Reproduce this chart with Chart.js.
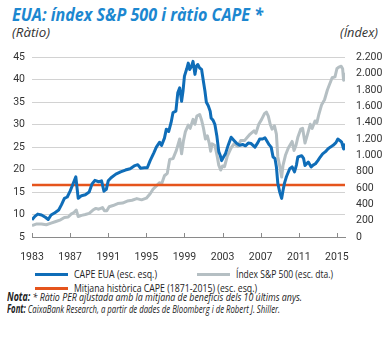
<!DOCTYPE html>
<html>
<head>
<meta charset="utf-8">
<script src="https://cdn.jsdelivr.net/npm/chart.js@4/dist/chart.umd.min.js"></script>
<style>
  body { margin: 0; background: #fff; width: 389px; height: 338px; position: relative; overflow: hidden;
         font-family: "Open Sans", sans-serif; color: #333; }
  .abs { position: absolute; white-space: nowrap; transform-origin: left center; line-height: 14px; }
  #title { left: 12px; top: 5px; font: italic bold 17px "Open Sans", sans-serif; color: #1c87d0; line-height: 20px; }
  .unit { top: 26px; font-style: italic; font-size: 12px; color: #333; }
  #wrap { position: absolute; left: 0; top: 40px; width: 389px; height: 222px; }
  .sw { position: absolute; width: 33px; height: 3px; }
  .lg { font-size: 11.5px; color: #222; }
  .note { left: 7px; font-size: 11.5px; font-style: italic; color: #222; }
</style>
</head>
<body>
<div id="title" class="abs" data-w="251">EUA: índex S&amp;P 500 i ràtio CAPE *</div>
<div class="abs unit" style="left:12px" data-w="38">(Ràtio)</div>
<div class="abs unit" style="left:340px" data-w="38">(Índex)</div>
<div id="wrap"><canvas id="myChart" width="389" height="222"></canvas></div>

<div class="sw" style="left:35px; top:273px; background:#0f6db8"></div>
<div class="abs lg" style="left:74px; top:267px" data-w="83">CAPE EUA (esc. esq.)</div>
<div class="sw" style="left:197px; top:273px; background:#b5bfc3"></div>
<div class="abs lg" style="left:236px; top:267px" data-w="97">Índex S&amp;P 500 (esc. dta.)</div>
<div class="sw" style="left:35px; top:287px; background:#e5541c"></div>
<div class="abs lg" style="left:74px; top:281px" data-w="183">Mitjana històrica CAPE (1871-2015) (esc. esq.)</div>

<div class="abs note" style="top:290px" data-w="295"><b>Nota:</b> * Ràtio PER ajustada amb la mitjana de beneficis dels 10 últims anys.</div>
<div class="abs note" style="top:302px" data-w="273"><b>Font:</b> CaixaBank Research, a partir de dades de Bloomberg i de Robert J. Shiller.</div>

<script>
'use strict';

// CAPE ratio (left scale)
const capeYears = [1983.0, 1983.3, 1983.6, 1984.0, 1984.4, 1984.7, 1985.0, 1985.4, 1985.8, 1986.1,
  1986.4, 1986.7, 1987.0, 1987.3, 1987.6, 1987.75, 1987.85, 1988.2, 1988.6, 1989.0,
  1989.3, 1989.6, 1990.0, 1990.3, 1990.55, 1990.8, 1991.0, 1991.3, 1991.8, 1992.3,
  1992.8, 1993.3, 1993.8, 1994.1, 1994.4, 1994.8, 1995.1, 1995.4, 1995.8, 1996.05,
  1996.4, 1996.6, 1996.9, 1997.1, 1997.35, 1997.6, 1997.8, 1998.1, 1998.3, 1998.5,
  1998.7, 1998.85, 1999.0, 1999.25, 1999.4, 1999.55, 1999.75, 1999.9, 2000.1, 2000.25,
  2000.4, 2000.6, 2000.8, 2001.0, 2001.15, 2001.3, 2001.5, 2001.7, 2001.8, 2002.0,
  2002.2, 2002.4, 2002.6, 2002.75, 2002.9, 2003.1, 2003.3, 2003.6, 2003.9, 2004.2,
  2004.5, 2004.8, 2005.1, 2005.4, 2005.7, 2006.0, 2006.4, 2006.7, 2006.9, 2007.2,
  2007.45, 2007.7, 2007.9, 2008.1, 2008.3, 2008.5, 2008.65, 2008.8, 2009.0, 2009.2,
  2009.35, 2009.5, 2009.7, 2010.05, 2010.3, 2010.55, 2010.75, 2010.9, 2011.3, 2011.5,
  2011.65, 2012.0, 2012.3, 2012.5, 2012.75, 2013.0, 2013.25, 2013.5, 2013.8, 2014.05,
  2014.3, 2014.6, 2014.9, 2015.1, 2015.3, 2015.5, 2015.7, 2015.85];
const capeValues = [8.8, 9.6, 10.1, 9.9, 9.4, 8.9, 9.9, 10.4, 11.0, 12.2,
  13.6, 13.9, 15.2, 16.8, 18.4, 15.5, 13.6, 14.2, 14.4, 15.0,
  16.8, 17.6, 17.3, 17.5, 15.2, 15.6, 17.5, 18.2, 19.0, 19.5,
  19.9, 20.2, 20.9, 21.1, 20.3, 20.4, 20.4, 22.0, 23.8, 25.0,
  26.1, 25.4, 27.0, 29.0, 28.5, 30.5, 32.7, 33.0, 37.1, 38.2,
  35.2, 37.5, 40.8, 42.5, 43.7, 42.3, 43.0, 44.1, 41.2, 43.0,
  43.4, 42.6, 42.3, 39.5, 37.5, 35.0, 34.2, 33.0, 31.5, 31.0,
  30.0, 27.5, 24.0, 23.2, 22.0, 22.8, 23.5, 25.5, 27.2, 26.5,
  25.8, 25.4, 25.6, 25.3, 25.9, 25.8, 25.0, 26.0, 26.8, 26.8,
  27.1, 26.2, 25.5, 25.0, 22.8, 22.5, 20.6, 16.9, 15.0, 13.6,
  15.4, 17.0, 18.4, 20.2, 20.6, 19.5, 21.0, 22.8, 23.1, 22.5,
  20.9, 21.7, 20.6, 21.0, 21.3, 22.0, 22.8, 23.5, 24.0, 24.6,
  25.0, 25.4, 26.0, 26.8, 26.5, 26.1, 24.6, 25.8];

// S&P 500 index (right scale)
const spxYears = [1983.0, 1983.5, 1984.0, 1984.5, 1985.0, 1985.5, 1986.0, 1986.4, 1986.8, 1987.1,
  1987.4, 1987.65, 1987.85, 1988.2, 1988.6, 1989.0, 1989.4, 1989.7, 1990.0, 1990.4,
  1990.6, 1990.85, 1991.1, 1991.5, 1992.0, 1992.5, 1993.0, 1993.5, 1994.0, 1994.5,
  1995.0, 1995.4, 1995.7, 1996.0, 1996.4, 1996.6, 1996.9, 1997.2, 1997.45, 1997.8,
  1998.15, 1998.5, 1998.7, 1998.9, 1999.1, 1999.4, 1999.6, 1999.9, 2000.1, 2000.3,
  2000.6, 2000.8, 2001.0, 2001.2, 2001.4, 2001.6, 2001.75, 2001.9, 2002.2, 2002.45,
  2002.6, 2002.8, 2003.0, 2003.2, 2003.5, 2003.9, 2004.2, 2004.6, 2004.9, 2005.3,
  2005.6, 2005.9, 2006.3, 2006.5, 2006.8, 2007.1, 2007.4, 2007.6, 2007.8, 2008.0,
  2008.2, 2008.45, 2008.65, 2008.8, 2009.0, 2009.2, 2009.35, 2009.6, 2009.9, 2010.3,
  2010.5, 2010.7, 2010.9, 2011.2, 2011.4, 2011.65, 2011.9, 2012.2, 2012.4, 2012.7,
  2012.9, 2013.1, 2013.4, 2013.7, 2014.0, 2014.2, 2014.5, 2014.8, 2015.0, 2015.2,
  2015.45, 2015.6, 2015.7, 2015.85];
const spxValues = [140, 160, 160, 150, 170, 190, 210, 240, 245, 280,
  300, 330, 250, 265, 275, 290, 330, 350, 340, 360,
  320, 320, 370, 385, 410, 415, 440, 450, 470, 455,
  475, 530, 585, 620, 665, 650, 750, 780, 950, 960,
  1060, 1200, 1020, 1180, 1290, 1370, 1330, 1440, 1380, 1480,
  1500, 1430, 1330, 1200, 1240, 1150, 1050, 1140, 1120, 980,
  880, 820, 870, 860, 990, 1090, 1140, 1110, 1180, 1180,
  1220, 1260, 1300, 1270, 1380, 1440, 1510, 1530, 1480, 1380,
  1320, 1360, 1260, 980, 870, 735, 880, 1000, 1090, 1170,
  1060, 1120, 1220, 1320, 1330, 1150, 1250, 1380, 1330, 1420,
  1400, 1500, 1620, 1680, 1800, 1860, 1950, 1960, 2060, 2080,
  2090, 2060, 1920, 2010];

// long-run CAPE average, 1871-2015
const meanYears = [1983.0, 2015.85];
const meanValue = 16.6;

const xTicks = [1983, 1987, 1991, 1995, 1999, 2003, 2007, 2011, 2015];

const tickFont = { family: 'Roboto, "Open Sans", sans-serif', size: 10.5 };

function toPoints(xs, ys) {
  return xs.map((x, i) => ({ x: x, y: ys[i] }));
}

function thousands(v) {
  return String(v).replace(/\B(?=(\d{3})+(?!\d))/g, '.');
}

// squeeze the html labels to their set widths (narrow face look)
function fitLabels() {
  document.querySelectorAll('[data-w]').forEach(el => {
    el.style.transform = '';
    const w = el.getBoundingClientRect().width;
    const target = parseFloat(el.getAttribute('data-w'));
    if (w > 0) el.style.transform = 'scaleX(' + (target / w) + ')';
  });
}
fitLabels();
if (document.fonts) document.fonts.ready.then(fitLabels);

// small tick marks standing up from the bottom axis
const upTicks = {
  id: 'upTicks',
  afterDraw(chart) {
    const ctx = chart.ctx;
    const xs = chart.scales.x;
    const bottom = chart.chartArea.bottom;
    ctx.save();
    ctx.strokeStyle = '#8a8a8a';
    ctx.lineWidth = 1;
    xTicks.forEach(t => {
      const px = Math.round(xs.getPixelForValue(t)) + 0.5;
      ctx.beginPath();
      ctx.moveTo(px, bottom);
      ctx.lineTo(px, bottom - 4);
      ctx.stroke();
    });
    ctx.restore();
  }
};

const ctx = document.getElementById('myChart').getContext('2d');
window.chart = new Chart(ctx, {
  type: 'line',
  data: {
    datasets: [{
      label: 'CAPE EUA (esc. esq.)',
      data: toPoints(capeYears, capeValues),
      borderColor: '#0f6db8',
      borderWidth: 3,
      yAxisID: 'y'
    }, {
      label: 'Mitjana històrica CAPE (1871-2015) (esc. esq.)',
      data: toPoints(meanYears, meanYears.map(() => meanValue)),
      borderColor: '#e5541c',
      borderWidth: 2.5,
      yAxisID: 'y'
    }, {
      label: 'Índex S&P 500 (esc. dta.)',
      data: toPoints(spxYears, spxValues),
      borderColor: '#b5bfc3',
      borderWidth: 3,
      yAxisID: 'y1'
    }]
  },
  options: {
    responsive: false,
    animation: false,
    layout: { padding: { top: 16, left: 0, right: 0, bottom: 0 } },
    elements: { point: { radius: 0 }, line: { tension: 0, borderJoinStyle: 'round' } },
    plugins: { legend: { display: false }, tooltip: { enabled: false } },
    scales: {
      x: {
        type: 'linear',
        min: 1983,
        max: 2015.85,
        afterBuildTicks: scale => { scale.ticks = xTicks.map(v => ({ value: v })); },
        afterFit: scale => { scale.height = 25; },
        grid: { display: false },
        border: { display: true, color: '#8a8a8a' },
        ticks: { font: tickFont, color: '#333', padding: 6, maxRotation: 0, callback: v => String(v) }
      },
      y: {
        position: 'left',
        min: 5,
        max: 45,
        afterFit: scale => { scale.width = 32; },
        grid: { color: '#d2d2d2', drawTicks: false },
        border: { display: false },
        ticks: { stepSize: 5, font: tickFont, color: '#333', padding: 7 }
      },
      y1: {
        position: 'right',
        min: 0,
        max: 2200,
        afterFit: scale => { scale.width = 44; },
        grid: { display: false, drawTicks: false },
        border: { display: false },
        ticks: { stepSize: 200, font: tickFont, color: '#333', padding: 11, callback: v => thousands(v) }
      }
    }
  },
  plugins: [upTicks]
});
</script>
</body>
</html>
